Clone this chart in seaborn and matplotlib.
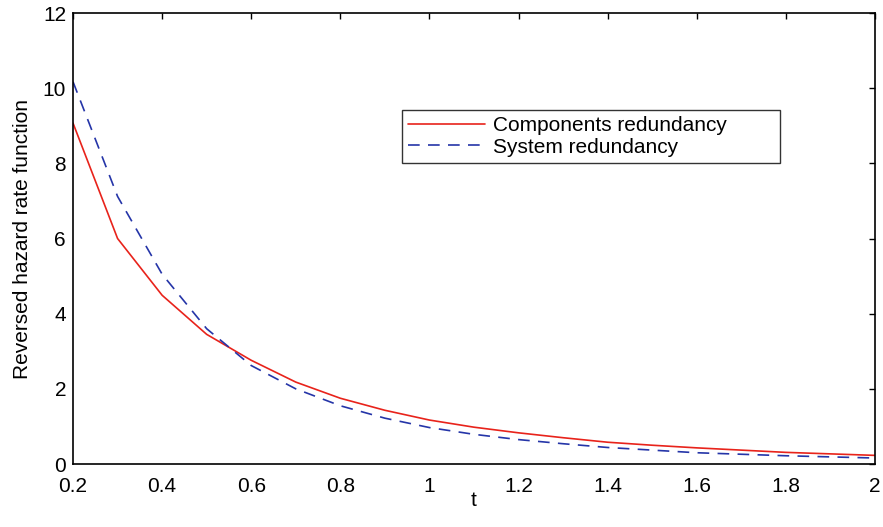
import pandas as pd
import matplotlib
matplotlib.use("Agg")
import matplotlib.pyplot as plt
import seaborn as sns

t = [0.2, 0.3, 0.4, 0.5, 0.6, 0.7, 0.8, 0.9, 1.0, 1.1,
     1.2, 1.3, 1.4, 1.5, 1.6, 1.7, 1.8, 1.9, 2.0]
components = [9.07, 6.0, 4.49, 3.45, 2.76, 2.18, 1.75, 1.43, 1.17, 0.98,
              0.83, 0.70, 0.58, 0.50, 0.43, 0.37, 0.31, 0.27, 0.23]
system = [10.17, 7.12, 5.05, 3.6, 2.62, 2.0, 1.55, 1.22, 0.97, 0.79,
          0.65, 0.54, 0.44, 0.37, 0.30, 0.26, 0.22, 0.19, 0.16]

df = pd.DataFrame({"t": t, "Components redundancy": components,
                   "System redundancy": system})

sns.set_style("white")
plt.rcParams["font.family"] = ["Liberation Sans", "DejaVu Sans"]
plt.rcParams["xtick.direction"] = "in"
plt.rcParams["ytick.direction"] = "in"
plt.rcParams["text.color"] = "black"
plt.rcParams["axes.labelcolor"] = "black"
plt.rcParams["xtick.color"] = "black"
plt.rcParams["ytick.color"] = "black"

fig = plt.figure(figsize=(8.83, 5.27), dpi=100)
ax = fig.add_axes([0.0827, 0.1195, 0.9082, 0.8558])

sns.lineplot(data=df, x="t", y="Components redundancy", ax=ax,
             color="#e8231b", lw=1.2, label="Components redundancy")
sns.lineplot(data=df, x="t", y="System redundancy", ax=ax,
             color="#2535a8", lw=1.2, dashes=False, label="System redundancy")
ax.lines[1].set_dashes([7, 5])

ax.set_xlim(0.2, 2.0)
ax.set_ylim(0, 12)
ax.set_xticks([0.2, 0.4, 0.6, 0.8, 1, 1.2, 1.4, 1.6, 1.8, 2])
ax.set_xticklabels(["0.2", "0.4", "0.6", "0.8", "1", "1.2", "1.4", "1.6", "1.8", "2"])
ax.set_yticks([0, 2, 4, 6, 8, 10, 12])
ax.tick_params(labelsize=15, length=4.5, width=1, top=True, right=True)
ax.tick_params(axis="x", pad=9)
ax.tick_params(axis="y", pad=5)
for s in ax.spines.values():
    s.set_color("black")
    s.set_linewidth(1.2)

ax.set_xlabel("t", fontsize=15, labelpad=-3)
ax.set_ylabel("Reversed hazard rate function", fontsize=15, labelpad=8)

# MATLAB-style legend box: wider than its text
leg = ax.legend(loc="upper left", bbox_to_anchor=(0.410, 0.670, 0.471, 0.115),
                mode="expand", fontsize=15, frameon=True, fancybox=False,
                borderpad=0.3, handlelength=3.7, labelspacing=0.12,
                borderaxespad=0, handletextpad=0.4)
leg.get_frame().set_edgecolor("black")
leg.get_frame().set_linewidth(1.0)

fig.savefig("out.png", dpi=100)
